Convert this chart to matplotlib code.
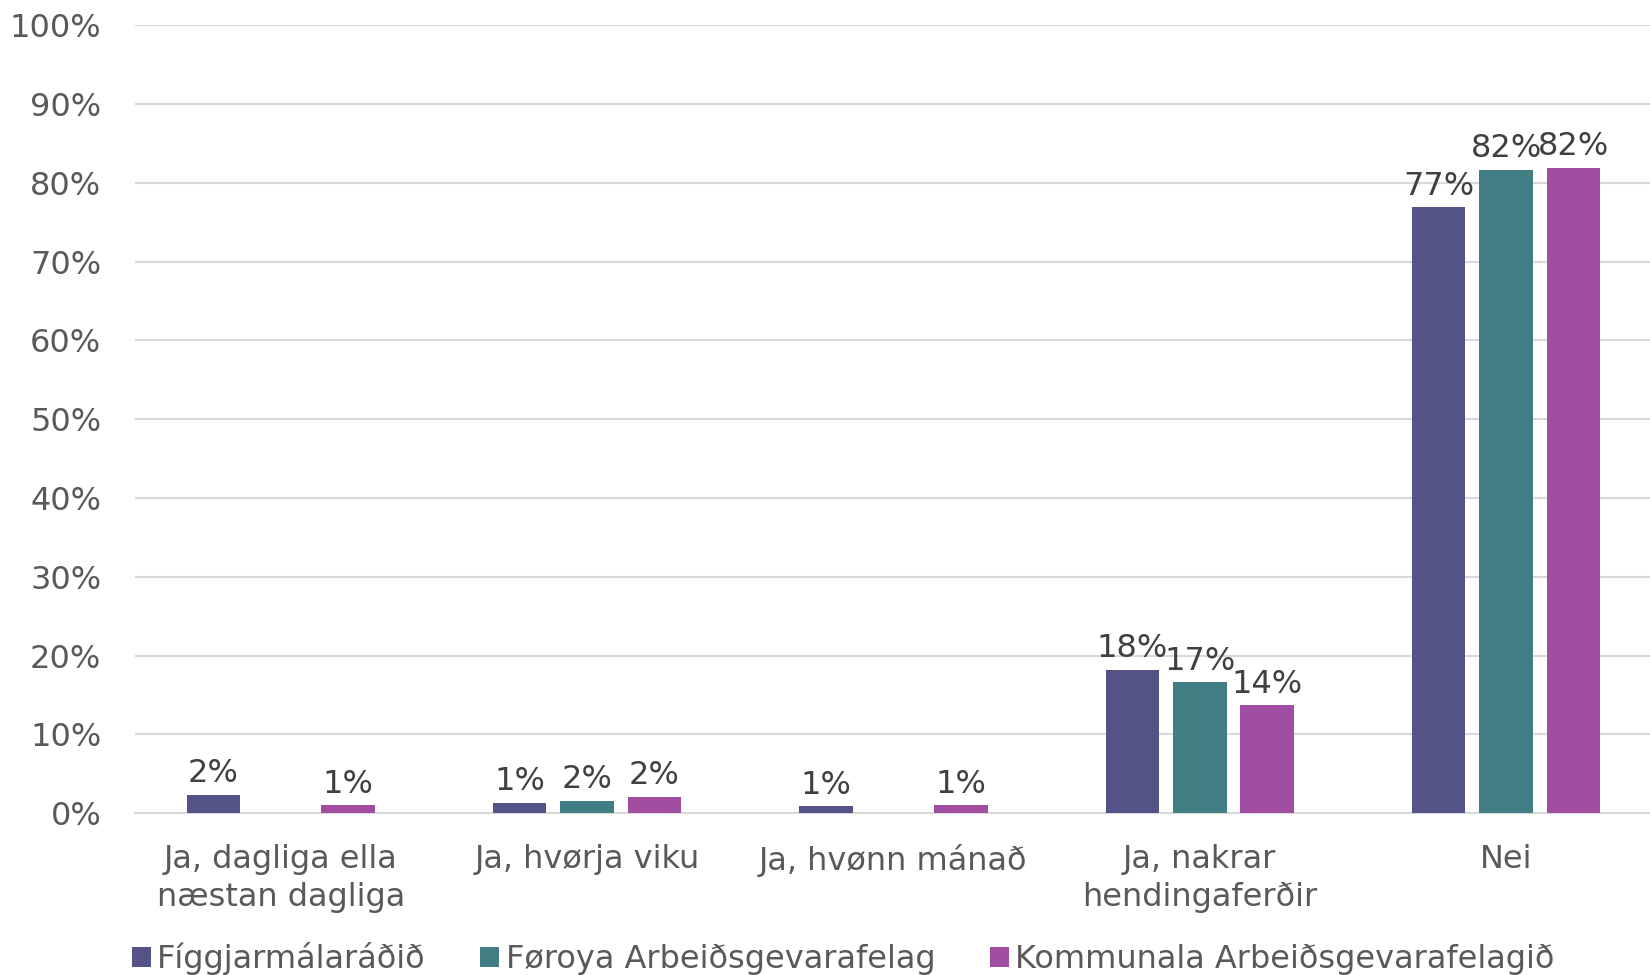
import numpy as np
import matplotlib
matplotlib.use('Agg')
from matplotlib import pyplot as plt

plt.rcParams['font.family'] = ['DejaVu Sans']

# Flokkar og virði (í %)
categories = ['Ja, dagliga ella\nnæstan dagliga', 'Ja, hvørja viku', 'Ja, hvønn mánað',
              'Ja, nakrar\nhendingaferðir', 'Nei']
series_names = ['Fíggjarmálaráðið', 'Føroya Arbeiðsgevarafelag', 'Kommunala Arbeiðsgevarafelagið']
figgjar = [2.3, 1.35, 0.85, 18.2, 76.9]
foroya = [0, 1.6, 0, 16.6, 81.7]
kommunala = [1.0, 2.1, 1.0, 13.7, 81.9]
colors = ['#535388', '#417E84', '#A14DA1']

fig, ax = plt.subplots(figsize=(16.5, 9.75), dpi=100)
fig.subplots_adjust(left=0.0816, right=1.0, bottom=0.166, top=0.974)

x = np.arange(len(categories))
width = 0.175
offsets = [-0.22, 0, 0.22]

for vals, off, col, name in zip([figgjar, foroya, kommunala], offsets, colors, series_names):
    bars = ax.bar(x + off, vals, width, color=col, label=name, zorder=3)
    for b, v in zip(bars, vals):
        if v == 0:
            continue
        ax.annotate(f'{round(v):.0f}%', (b.get_x() + b.get_width() / 2, v),
                    xytext=(0, 4), textcoords='offset points',
                    ha='center', va='bottom', fontsize=23, color='#404040', zorder=4)

ax.set_ylim(0, 100)
ax.set_xlim(-0.477, 4.47)
ax.set_yticks(np.arange(0, 101, 10))
ax.set_yticklabels([f'{t}%' for t in range(0, 101, 10)])
ax.set_xticks(x)
ax.set_xticklabels(categories, linespacing=1.32)
ax.tick_params(axis='y', length=0, labelsize=23, labelcolor='#595959', pad=24)
ax.tick_params(axis='x', length=0, labelsize=23, labelcolor='#595959', pad=22)
ax.yaxis.grid(True, color='#d9d9d9', linewidth=1.5, zorder=0)
for s in ['top', 'right', 'left']:
    ax.spines[s].set_visible(False)
ax.spines['bottom'].set_color('#d9d9d9')
ax.spines['bottom'].set_linewidth(1.5)

fig.legend(loc='center left', bbox_to_anchor=(0.072, 0.017), ncol=3, frameon=False,
           fontsize=23, labelcolor='#595959', handlelength=0.6, handleheight=0.6,
           handletextpad=0.2, columnspacing=1.7, borderaxespad=0)

fig.savefig('out.png', dpi=100)
